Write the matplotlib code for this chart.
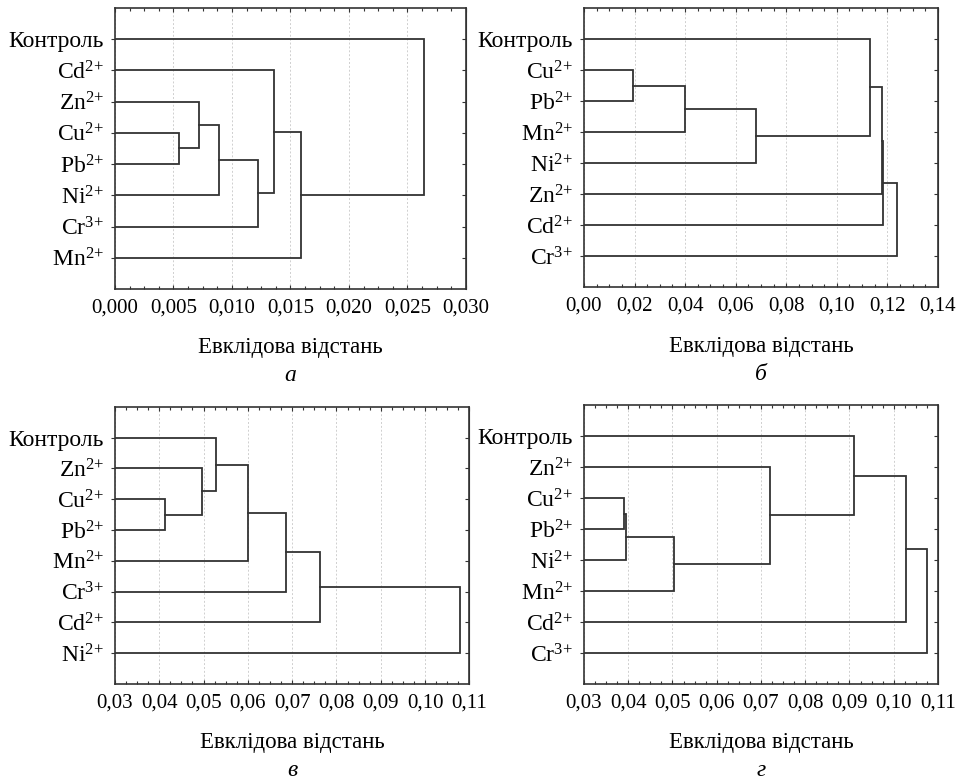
import matplotlib
matplotlib.use('Agg')
import matplotlib.pyplot as plt
from matplotlib.ticker import MultipleLocator, FuncFormatter

plt.rcParams['font.family'] = ['Liberation Serif', 'DejaVu Serif']
plt.rcParams['mathtext.default'] = 'regular'

LINE = '#333333'

# листки (зверху вниз) і злиття: (дитина, дитина, відстань); int = номер попереднього злиття
leaves_a = ['Контроль', 'Cd', 'Zn', 'Cu', 'Pb', 'Ni', 'Cr', 'Mn']
merges_a = [('Cu', 'Pb', 0.0055), ('Zn', 0, 0.0072), (1, 'Ni', 0.00886), (2, 'Cr', 0.01225),
            ('Cd', 3, 0.01356), (4, 'Mn', 0.01593), ('Контроль', 5, 0.02638)]

leaves_b = ['Контроль', 'Cu', 'Pb', 'Mn', 'Ni', 'Zn', 'Cd', 'Cr']
merges_b = [('Cu', 'Pb', 0.0194), (0, 'Mn', 0.0401), (1, 'Ni', 0.068), ('Контроль', 2, 0.113),
            (3, 'Zn', 0.1180), (4, 'Cd', 0.1184), (5, 'Cr', 0.1238)]

leaves_c = ['Контроль', 'Zn', 'Cu', 'Pb', 'Mn', 'Cr', 'Cd', 'Ni']
merges_c = [('Cu', 'Pb', 0.0413), ('Zn', 0, 0.0497), ('Контроль', 1, 0.0529), (2, 'Mn', 0.0600),
            (3, 'Cr', 0.0686), (4, 'Cd', 0.0763), (5, 'Ni', 0.1079)]

leaves_d = ['Контроль', 'Zn', 'Cu', 'Pb', 'Ni', 'Mn', 'Cd', 'Cr']
merges_d = [('Cu', 'Pb', 0.0390), (0, 'Ni', 0.0396), (1, 'Mn', 0.0503), ('Zn', 2, 0.0720),
            ('Контроль', 3, 0.0910), (4, 'Cd', 0.1028), (5, 'Cr', 0.1076)]

charges = {'Cd': '2', 'Zn': '2', 'Cu': '2', 'Pb': '2', 'Ni': '2', 'Mn': '2', 'Cr': '3'}

panels = [
    # leaves, merges, xlim, major, minor, decimals, letter, rect
    (leaves_a, merges_a, (0, 0.030), 0.005, 0.00125, 3, 'а', [0.120, 0.630, 0.3664, 0.3598]),
    (leaves_b, merges_b, (0, 0.14), 0.02, 0.005, 2, 'б', [0.6096, 0.6325, 0.3695, 0.3572]),
    (leaves_c, merges_c, (0.03, 0.11), 0.01, 0.0025, 2, 'в', [0.120, 0.1242, 0.3699, 0.3550]),
    (leaves_d, merges_d, (0.03, 0.11), 0.01, 0.0025, 2, 'г', [0.6096, 0.1242, 0.3695, 0.3572]),
]


def label(name):
    if name in charges:
        return name + '$^{' + charges[name] + '{+}}$'
    return name


def draw_tree(ax, leaves, merges, x0):
    pos = {name: (x0, i + 1) for i, name in enumerate(leaves)}
    nodes = []
    for a, b, h in merges:
        xa, ya = pos[a] if isinstance(a, str) else nodes[a]
        xb, yb = pos[b] if isinstance(b, str) else nodes[b]
        ax.plot([xa, h, h, xb], [ya, ya, yb, yb], color=LINE, lw=1.3, solid_joinstyle='miter')
        nodes.append((h, (ya + yb) / 2))


fig = plt.figure(figsize=(9.58, 7.81), dpi=100)

for leaves, merges, xlim, major, minor, dec, letter, rect in panels:
    ax = fig.add_axes(rect)
    draw_tree(ax, leaves, merges, xlim[0])
    ax.set_xlim(*xlim)
    ax.set_ylim(len(leaves) + 1, 0)

    ax.xaxis.set_major_locator(MultipleLocator(major))
    ax.xaxis.set_minor_locator(MultipleLocator(minor))
    ax.xaxis.set_major_formatter(FuncFormatter(lambda v, p, d=dec: f'{v:.{d}f}'.replace('.', ',')))
    ax.tick_params(axis='x', which='both', direction='in', top=True, bottom=True,
                   color=LINE, width=0.8, labelsize=15, pad=7)
    ax.tick_params(axis='x', which='major', length=3)
    ax.tick_params(axis='x', which='minor', length=2)

    ax.set_yticks(range(1, len(leaves) + 1))
    ax.set_yticklabels([label(n) for n in leaves])
    ax.tick_params(axis='y', direction='out', length=3, width=0.8, color=LINE,
                   labelsize=17, pad=5)
    sec = ax.secondary_yaxis('right')
    sec.set_yticks(range(1, len(leaves) + 1))
    sec.tick_params(direction='in', length=3, width=0.8, color=LINE, labelright=False)
    sec.spines['right'].set_color(LINE)

    ax.grid(axis='x', which='major', color='#cfcfcf', linestyle=(0, (2, 2)), linewidth=0.7)
    for s in ax.spines.values():
        s.set_color(LINE)
        s.set_linewidth(1.2)

    ax.annotate('Евклідова відстань', xy=(0.5, 0), xycoords='axes fraction',
                xytext=(0, -59 * 0.72), textcoords='offset points',
                ha='center', va='center', fontsize=16.5)
    ax.annotate(letter, xy=(0.5, 0), xycoords='axes fraction',
                xytext=(0, -87 * 0.72), textcoords='offset points',
                ha='center', va='center', fontsize=17, style='italic')

fig.savefig('out.png', dpi=100)
